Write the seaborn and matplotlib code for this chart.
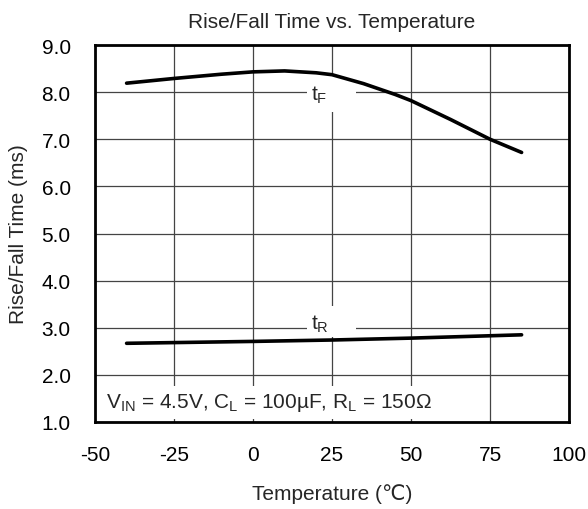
import matplotlib
matplotlib.use("Agg")
import matplotlib.pyplot as plt
import seaborn as sns
import pandas as pd
from matplotlib.patches import Rectangle

temp_f = [-40, -25, -10, 0, 10, 20, 25, 35, 45, 50, 62.5, 75, 85]
fall_ms = [8.19, 8.29, 8.38, 8.43, 8.45, 8.41, 8.37, 8.18, 7.95, 7.82, 7.42, 7.00, 6.72]
temp_r = [-40, -20, 0, 25, 50, 75, 85]
rise_ms = [2.67, 2.69, 2.71, 2.74, 2.78, 2.83, 2.85]

title = "Rise/Fall Time vs. Temperature"
xlabel = "Temperature (℃)"
ylabel = "Rise/Fall Time (ms)"
xticks = [-50, -25, 0, 25, 50, 75, 100]
yticks = [1.0, 2.0, 3.0, 4.0, 5.0, 6.0, 7.0, 8.0, 9.0]
note = r"V$_{\mathrm{IN}}$ = 4.5V, C$_{\mathrm{L}}$ = 100µF, R$_{\mathrm{L}}$ = 150Ω"

FS = 15

sns.set_style("white")
plt.rcParams['font.family'] = ['Liberation Sans', 'DejaVu Sans']
plt.rcParams['mathtext.fontset'] = 'custom'
plt.rcParams['mathtext.rm'] = 'Liberation Sans'
plt.rcParams['mathtext.it'] = 'Liberation Sans'
plt.rcParams['mathtext.bf'] = 'Liberation Sans'

fig = plt.figure(figsize=(5.88, 5.10), dpi=100)
ax = fig.add_axes([95/588, 1 - 423/510, (569-95)/588, (423-46)/510])

df_f = pd.DataFrame({"T": temp_f, "t": fall_ms})
df_r = pd.DataFrame({"T": temp_r, "t": rise_ms})
sns.lineplot(data=df_f, x="T", y="t", ax=ax, color="black", linewidth=2.6, zorder=3)
sns.lineplot(data=df_r, x="T", y="t", ax=ax, color="black", linewidth=2.6, zorder=3)

ax.set_xlim(-50, 100)
ax.set_ylim(1.0, 9.0)
ax.set_xticks(xticks)
ax.set_xticklabels([str(v) for v in xticks])
ax.set_yticks(yticks)
ax.set_yticklabels([f"{v:.1f}" for v in yticks])
ax.tick_params(axis='both', length=0, labelsize=FS, colors='black')
ax.tick_params(axis='x', pad=16.5)
ax.tick_params(axis='y', pad=17.5)
ax.grid(True, color='#444444', linewidth=0.9)
ax.set_axisbelow(True)
for s in ax.spines.values():
    s.set_visible(True)
    s.set_color('black')
    s.set_linewidth(2.0)

# white boxes behind labels (cover gridlines)
ax.add_patch(Rectangle((17.1, 7.58), 15.5, 0.76, facecolor='white', edgecolor='none', zorder=1))
ax.add_patch(Rectangle((17.1, 2.80), 15.5, 0.66, facecolor='white', edgecolor='none', zorder=1))
ax.add_patch(Rectangle((-49.6, 1.06), 110, 0.70, facecolor='white', edgecolor='none', zorder=1))

ax.text(18.3, 7.95, r"t$_{\mathrm{F}}$", fontsize=FS, ha='left', va='center', zorder=4)
ax.text(18.3, 3.10, r"t$_{\mathrm{R}}$", fontsize=FS, ha='left', va='center', zorder=4)
ax.text(-46.5, 1.42, note, fontsize=FS, ha='left', va='center', zorder=4)

ax.set_xlabel(xlabel, fontsize=FS, labelpad=14)
ax.set_ylabel(ylabel, fontsize=FS, labelpad=10)
ax.set_title(title, fontsize=FS, pad=13)

fig.savefig("out.png", dpi=100)
